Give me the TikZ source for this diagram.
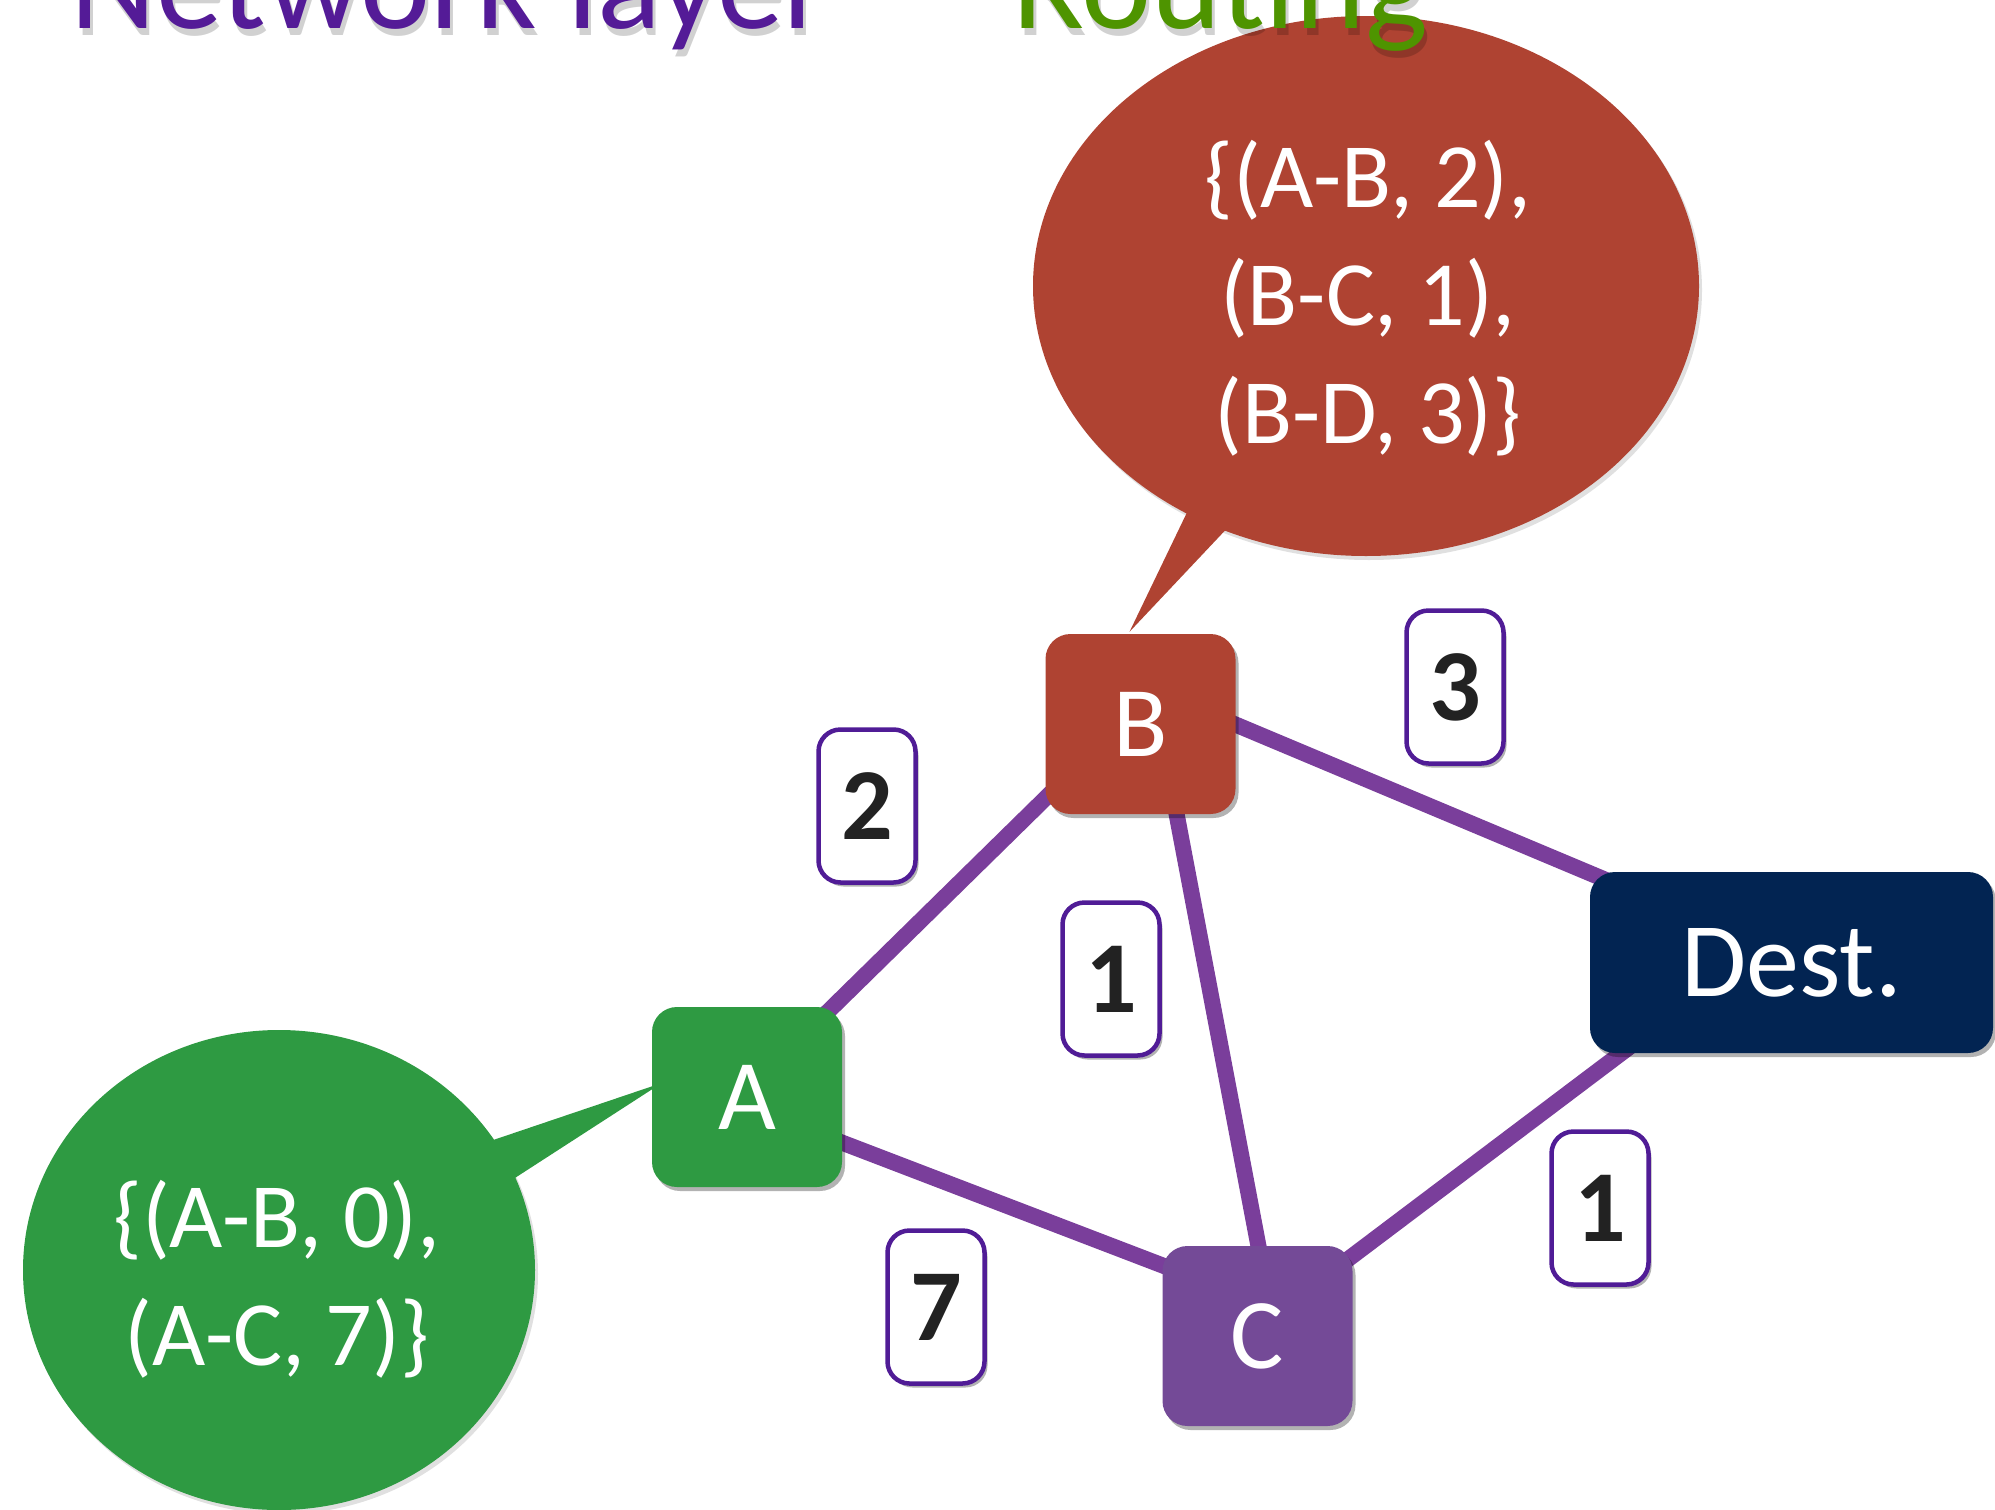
\documentclass[tikz,border=0pt]{standalone}
\usepackage{fontspec}
\setmainfont{Carlito}
\usetikzlibrary{calc,shadows}

\definecolor{nodeRed}{RGB}{175,67,50}
\definecolor{nodeGreen}{RGB}{46,154,66}
\definecolor{nodePurple}{RGB}{116,74,151}
\definecolor{nodeNavy}{RGB}{2,36,82}
\definecolor{linkPurple}{RGB}{122,62,155}
\definecolor{weightBorder}{RGB}{80,28,150}
\definecolor{titlePurple}{RGB}{84,27,151}
\definecolor{titleGreen}{RGB}{78,148,0}
\definecolor{digitInk}{RGB}{34,34,34}

\pgfdeclarelayer{bg}
\pgfsetlayers{bg,main}

\tikzset{
  softshadow/.style={drop shadow={shadow xshift=3pt, shadow yshift=-4pt, opacity=0.3, fill=black}},
  router/.style={rounded corners=25pt, minimum width=190pt, minimum height=180pt,
    inner sep=0pt, text=white, font=\fontsize{100}{100}\selectfont, softshadow},
  weightbox/.style={draw=weightBorder, line width=4.5pt, fill=white, rounded corners=22pt,
    minimum width=97pt, minimum height=153pt, inner sep=0pt, text=digitInk,
    font=\bfseries\fontsize{102}{102}\selectfont, softshadow},
  link/.style={draw=linkPurple, line width=16pt},
  bubbletext/.style={text=white, align=center, font=\fontsize{92}{118}\selectfont},
  titletext/.style={anchor=base west, inner sep=0pt, font=\fontsize{133}{133}\selectfont},
}

\begin{document}
\begin{tikzpicture}[x=1pt,y=-1pt]
\useasboundingbox (0,0) rectangle (1995,1510);

% headings, with a soft grey shadow underneath
\node[titletext, text=black, opacity=0.18] at (73,35) {Network layer};
\node[titletext, text=titlePurple] (title1) at (70,28) {Network layer};
\node[titletext, text=black, opacity=0.18] at (1015,35) {Routing};
\node[titletext, text=titleGreen] (title2) at (1012,28) {Routing};

% routers
\node[router, fill=nodeGreen]  (A) at (747,1097) {A};
\node[router, fill=nodeRed]    (B) at (1140.5,724) {B};
\node[router, fill=nodePurple] (C) at (1257.5,1336) {C};
\node[router, fill=nodeNavy, minimum width=403pt, minimum height=181pt,
      font=\fontsize{106}{106}\selectfont] (D) at (1791.5,962.5) {Dest.};

% link costs
\node[weightbox] (w2)  at (867,806)   {2};
\node[weightbox] (w3)  at (1455,687)  {3};
\node[weightbox] (w1a) at (1111,979)  {1};
\node[weightbox] (w7)  at (936,1307)  {7};
\node[weightbox] (w1b) at (1600,1208) {1};

\begin{pgfonlayer}{bg}
  % speech bubble of B
  \fill[black, opacity=0.12] (1369,290) ellipse [x radius=333, y radius=270];
  \fill[nodeRed] (1366,286) ellipse [x radius=333, y radius=270];
  \fill[nodeRed] (1205,475) -- (1250,504) -- ($(B.north)+(-11,-2)$) -- cycle;
  % speech bubble of A
  \fill[black, opacity=0.12] (282,1274) ellipse [x radius=256, y radius=240];
  \fill[nodeGreen] (279,1270) ellipse [x radius=256, y radius=240];
  \fill[nodeGreen] (440,1158) -- (470,1207) -- ($(A.west)+(10,-14)$) -- cycle;

  % links
  \draw[link] ($(A)+(0,-6)$) -- ($(B)+(0,-19)$);
  \draw[link] ($(A.east)+(-20,38)$) -- ($(C.west)+(20,-63)$);
  \draw[link] ($(B)+(19,0)$) -- ($(C)+(18,0)$);
  \draw[link] ($(B.east)+(-30,-12)$) -- ($(D.north west)+(30,14)$);
  \draw[link] ($(C.north east)+(-20,25)$) -- ($(D.south west)+(50,-14)$);
\end{pgfonlayer}

% bubble contents
\node[bubbletext] (tB) at (1368,298) {\{(A-B, 2),\\(B-C, 1),\\(B-D, 3)\}};
\node[bubbletext] (tA) at (277,1279) {\{(A-B, 0),\\(A-C, 7)\}};
\end{tikzpicture}
\end{document}
